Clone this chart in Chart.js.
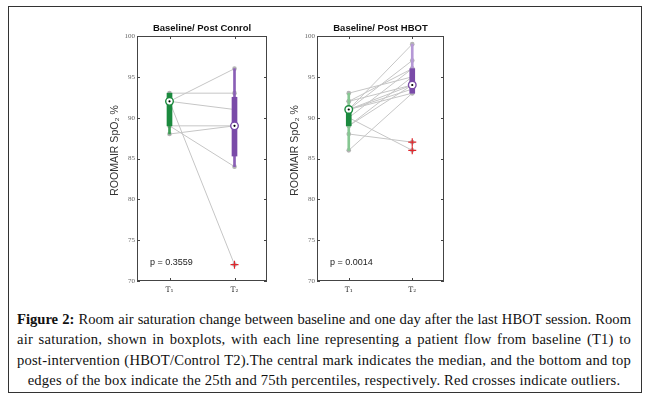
<!DOCTYPE html>
<html>
<head>
<meta charset="utf-8">
<script src="https://cdn.jsdelivr.net/npm/chart.js@4.4.1/dist/chart.umd.min.js"></script>
<style>
  body { margin: 0; background: #fff; }
  #page { position: relative; width: 649px; height: 399px; overflow: hidden; }
  #frame { position: absolute; left: 8px; top: 6px; width: 632px; height: 385px; border: 1px solid #333; }
  .plot { position: absolute; top: 15px; width: 180px; height: 280px; }
  #caption { position: absolute; left: 17px; top: 309px; width: 614px; font-family: "Liberation Serif", serif; font-size: 14.6px; letter-spacing: 0.2px; line-height: 20.3px; color: #111; }
  #caption div { text-align: justify; text-align-last: justify; }
  #caption div.first { letter-spacing: 0; }
  #caption div.last { text-align-last: center; }
</style>
</head>
<body>
<div id="page">
  <div id="frame"></div>
  <div class="plot" style="left:100px"><canvas id="ctrl" width="180" height="280"></canvas></div>
  <div class="plot" style="left:280px"><canvas id="hbot" width="180" height="280"></canvas></div>
  <div id="caption">
    <div class="first"><b>Figure 2:</b> Room air saturation change between baseline and one day after the last HBOT session. Room</div>
    <div>air saturation, shown in boxplots, with each line representing a patient flow from baseline (T1) to</div>
    <div>post-intervention (HBOT/Control T2).The central mark indicates the median, and the bottom and top</div>
    <div class="last">edges of the box indicate the 25th and 75th percentiles, respectively. Red crosses indicate outliers.</div>
  </div>
</div>
<script>
var timeLabels = ['T\u2081', 'T\u2082'];
var yTitle = 'ROOMAIR SpO\u2082 %';

// control group: one value per patient at T1 and T2
var ctrlT1 = [93, 92, 92, 92, 89, 88, 89];
var ctrlT2 = [93, 96, 91, 72, 89, 89, 84];
var ctrlWhisker = [[88, 93], [84, 96]];
var ctrlBox = [[89, 93], [85.3, 92.5]];
var ctrlMedian = [92, 89];
var ctrlOutliers = [72];

// HBOT group
var hbotT1 = [93, 92, 92, 91, 91, 91, 91, 91, 90, 90, 89, 89, 88, 86];
var hbotT2 = [95, 96, 94, 99, 97, 93.5, 94, 93, 96, 86, 95, 94, 87, 93];
var hbotWhisker = [[86, 93], [93, 99]];
var hbotBox = [[89, 91], [93, 96]];
var hbotMedian = [91, 94];
var hbotOutliers = [87, 86];

var green = '#1b8a3e', greenMid = '#3d9c55', greenLight = '#86c792';
var purple = '#7a4ba8', purpleMid = '#8a5fb6', purpleLight = '#b598d6';

function framePlugin(pText) {
    return {
        id: 'frame',
        afterDraw: function (chart) {
            var ctx = chart.ctx, a = chart.chartArea;
            var x = chart.scales.x, y = chart.scales.y;
            ctx.save();
            ctx.strokeStyle = '#444';
            ctx.lineWidth = 1;
            ctx.strokeRect(a.left + 0.5, a.top + 0.5, a.right - a.left - 1, a.bottom - a.top - 1);
            ctx.beginPath();
            y.ticks.forEach(function (t) {
                var py = Math.round(y.getPixelForValue(t.value)) + 0.5;
                ctx.moveTo(a.left, py); ctx.lineTo(a.left + 3, py);
                ctx.moveTo(a.right, py); ctx.lineTo(a.right - 3, py);
            });
            timeLabels.forEach(function (l, i) {
                var px = Math.round(x.getPixelForValue(i)) + 0.5;
                ctx.moveTo(px, a.top); ctx.lineTo(px, a.top + 3);
                ctx.moveTo(px, a.bottom); ctx.lineTo(px, a.bottom - 3);
            });
            ctx.stroke();
            ctx.fillStyle = '#222';
            ctx.font = '9px "Liberation Sans", Arial';
            ctx.textBaseline = 'middle';
            ctx.fillText(pText, a.left + 13, y.getPixelForValue(72.3));
            // rotated y axis title, sitting a little above the axis centre
            ctx.save();
            ctx.translate(a.left - 22, (a.top + a.bottom) / 2 - 8);
            ctx.rotate(-Math.PI / 2);
            ctx.textAlign = 'center';
            ctx.fillStyle = '#333';
            ctx.font = '10.5px "Liberation Sans", Arial';
            ctx.fillText(yTitle, 0, 0);
            ctx.restore();
            ctx.restore();
        }
    };
}

function makeChart(id, title, t1, t2, whisker, box, median, outliers, whiskerColors, pText, padRight) {
    var datasets = [];
    t1.forEach(function (v, i) {
        datasets.push({
            type: 'line', data: [v, t2[i]], order: 4,
            borderColor: '#c6c6c6', borderWidth: 1,
            pointRadius: 2.3, pointBackgroundColor: '#b3b3b3', pointBorderWidth: 0
        });
    });
    datasets.push({
        type: 'bar', data: whisker, order: 3, grouped: false, barThickness: 2,
        backgroundColor: whiskerColors
    });
    datasets.push({
        type: 'bar', data: box, order: 2, grouped: false, barThickness: 5,
        backgroundColor: [green, purple]
    });
    datasets.push({
        type: 'line', data: median, showLine: false, order: 1,
        pointRadius: 3.8, pointBackgroundColor: '#fff',
        pointBorderColor: [green, purple], pointBorderWidth: 1.4
    });
    datasets.push({
        type: 'line', data: median, showLine: false, order: 0,
        pointRadius: 1.1, pointBackgroundColor: '#000', pointBorderWidth: 0
    });
    outliers.forEach(function (v) {
        datasets.push({
            type: 'line', data: [{x: timeLabels[1], y: v}], showLine: false, order: 0,
            pointStyle: 'cross', pointRadius: 4, pointBorderColor: '#e0262b', pointBorderWidth: 1.2
        });
    });

    return new Chart(document.getElementById(id).getContext('2d'), {
        type: 'bar',
        data: { labels: timeLabels, datasets: datasets },
        options: {
            responsive: false,
            animation: false,
            layout: { padding: { left: 0, right: padRight, top: 0, bottom: 0 } },
            plugins: {
                legend: { display: false },
                tooltip: { enabled: false },
                title: {
                    display: true, text: title, color: '#111', fullSize: false,
                    font: { family: '"Liberation Sans", Arial', size: 9.5, weight: 'bold' },
                    padding: { top: 7.5, bottom: 2.1 }
                }
            },
            scales: {
                x: {
                    offset: true,
                    grid: { display: false, drawTicks: false, tickLength: 0 },
                    border: { display: false },
                    ticks: { color: '#333', padding: 5, font: { family: '"DejaVu Serif", serif', size: 7.5 } },
                    afterFit: function (s) { s.height = 14; }
                },
                y: {
                    min: 70, max: 100,
                    grid: { display: false, drawTicks: false, tickLength: 0 },
                    border: { display: false },
                    ticks: { stepSize: 5, color: '#666', padding: 2, font: { family: '"Liberation Serif", serif', size: 7 } },
                    afterFit: function (s) { s.width = 37; }
                }
            }
        },
        plugins: [framePlugin(pText)]
    });
}

makeChart('ctrl', 'Baseline/ Post Conrol', ctrlT1, ctrlT2, ctrlWhisker, ctrlBox, ctrlMedian, ctrlOutliers,
    [greenMid, purpleMid], 'p = 0.3559', 13);
makeChart('hbot', 'Baseline/ Post HBOT', hbotT1, hbotT2, hbotWhisker, hbotBox, hbotMedian, hbotOutliers,
    [greenLight, purpleLight], 'p = 0.0014', 16);
</script>
</body>
</html>
